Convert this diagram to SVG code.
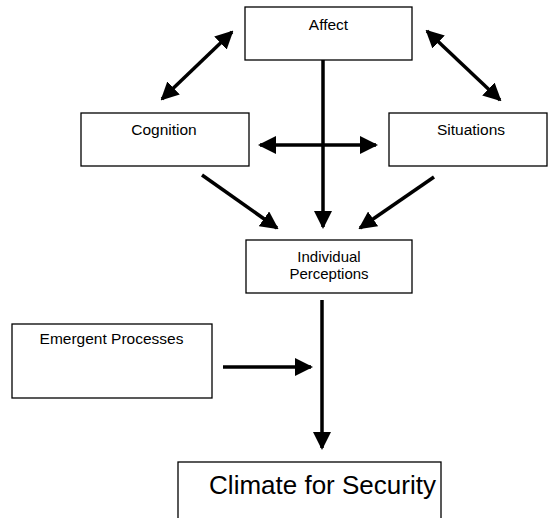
<svg xmlns="http://www.w3.org/2000/svg" width="548" height="518" viewBox="0 0 548 518">
<style>
.box{fill:#fff;stroke:#000;stroke-width:1.3}
.lbl{font-family:"Liberation Sans",Arial,sans-serif;font-size:15.5px;fill:#000;text-anchor:middle}
.sm{font-size:15px}
.big{font-size:26px}
.ar{stroke:#000;stroke-width:3.5;fill:none}
</style>
<defs>
<marker id="ah" markerUnits="userSpaceOnUse" markerWidth="18" markerHeight="18" refX="16" refY="9" orient="auto-start-reverse" viewBox="0 0 18 18">
<path d="M0,0 L18,9 L0,18 z" fill="#000"/>
</marker>
</defs>
<rect width="548" height="518" fill="#fff"/>
<g id="connectors">
<line class="ar" x1="232" y1="32" x2="162" y2="99" marker-start="url(#ah)" marker-end="url(#ah)"/>
<line class="ar" x1="427" y1="31" x2="500" y2="100" marker-start="url(#ah)" marker-end="url(#ah)"/>
<line class="ar" x1="260" y1="145" x2="376" y2="145" marker-start="url(#ah)" marker-end="url(#ah)"/>
<line class="ar" x1="323" y1="60" x2="323" y2="227" marker-end="url(#ah)"/>
<line class="ar" x1="202" y1="175" x2="277" y2="228" marker-end="url(#ah)"/>
<line class="ar" x1="434" y1="177" x2="360" y2="228" marker-end="url(#ah)"/>
<line class="ar" x1="322" y1="300" x2="322" y2="448" marker-end="url(#ah)"/>
<line class="ar" x1="223" y1="367" x2="311" y2="367" marker-end="url(#ah)"/>
</g>
<g id="affect">
<rect class="box" x="245" y="7" width="167" height="53"/>
<text class="lbl" x="328.5" y="30">Affect</text>
</g>
<g id="cognition">
<rect class="box" x="81" y="113" width="168" height="53"/>
<text class="lbl" x="164" y="135">Cognition</text>
</g>
<g id="situations">
<rect class="box" x="389" y="113" width="158" height="53"/>
<text class="lbl" x="471" y="135">Situations</text>
</g>
<g id="individual-perceptions">
<rect class="box" x="246" y="240" width="166" height="53"/>
<text class="lbl sm" x="329" y="261.5">Individual</text>
<text class="lbl sm" x="329" y="279">Perceptions</text>
</g>
<g id="emergent-processes">
<rect class="box" x="12" y="324" width="200" height="74"/>
<text class="lbl" x="111.5" y="344">Emergent Processes</text>
</g>
<g id="climate-for-security">
<rect class="box" x="178" y="462" width="263" height="70"/>
<text class="lbl big" x="322.5" y="494">Climate for Security</text>
</g>
</svg>
